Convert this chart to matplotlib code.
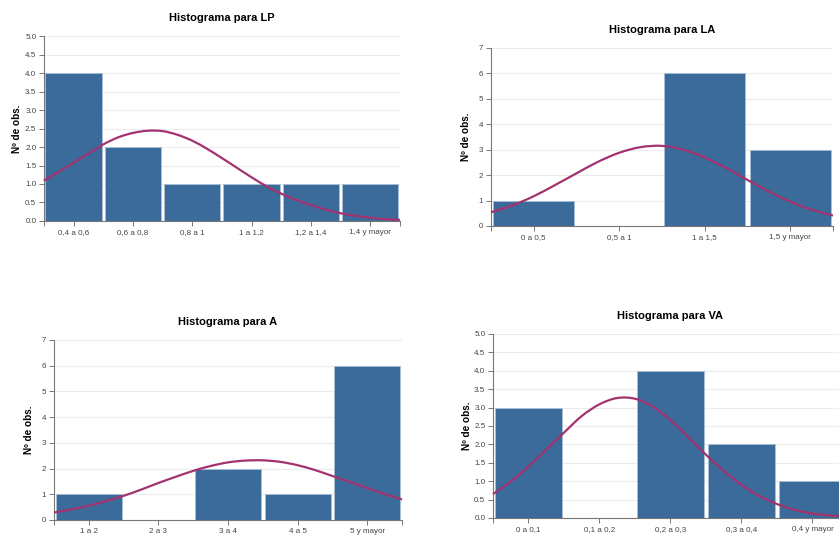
import numpy as np
import matplotlib
matplotlib.use('Agg')
import matplotlib.pyplot as plt
from matplotlib.path import Path
from matplotlib.patches import PathPatch

plt.rcParams['font.family'] = ['Liberation Sans', 'DejaVu Sans']

# LP
lp_cats = ['0,4 a 0,6', '0,6 a 0,8', '0,8 a 1', '1 a 1,2', '1,2 a 1,4', '1,4 y mayor']
lp_counts = [4, 2, 1, 1, 1, 1]
lp_curve = [1.09, 1.33, 1.58, 1.82, 2.07, 2.26, 2.38, 2.44, 2.43, 2.33, 2.17, 1.95,
            1.70, 1.44, 1.18, 0.94, 0.74, 0.57, 0.43, 0.31, 0.21, 0.14, 0.09, 0.05, 0.03]

# LA
la_cats = ['0 a 0,5', '0,5 a 1', '1 a 1,5', '1,5 y mayor']
la_counts = [1, 0, 6, 3]
la_curve = [0.54, 0.81, 1.17, 1.61, 2.07, 2.52, 2.88, 3.10, 3.15, 3.00, 2.69, 2.28,
            1.81, 1.36, 0.96, 0.64, 0.41]

# A
a_cats = ['1 a 2', '2 a 3', '3 a 4', '4 a 5', '5 y mayor']
a_counts = [1, 0, 2, 1, 6]
a_curve = [0.29, 0.41, 0.56, 0.74, 0.94, 1.18, 1.44, 1.68, 1.91, 2.10, 2.24, 2.31,
           2.32, 2.26, 2.13, 1.94, 1.71, 1.48, 1.24, 1.01, 0.80]

# VA
va_cats = ['0 a 0,1', '0,1 a 0,2', '0,2 a 0,3', '0,3 a 0,4', '0,4 y mayor']
va_counts = [3, 0, 4, 2, 1]
va_curve = [0.65, 0.99, 1.40, 1.86, 2.32, 2.77, 3.09, 3.26, 3.24, 3.03, 2.66, 2.20,
            1.72, 1.28, 0.90, 0.60, 0.38, 0.22, 0.12, 0.07, 0.03]

bar_color = '#3a6b9a'
line_color = '#a3336f'

fig = plt.figure(figsize=(8.39, 5.36), dpi=100)


def smooth_path(xs, ys):
    # catmull-rom drawn as bezier segments through the read points
    verts = [(xs[0], ys[0])]
    codes = [Path.MOVETO]
    n = len(xs)
    for i in range(n - 1):
        x0, y0 = (xs[i - 1], ys[i - 1]) if i > 0 else (xs[i], ys[i])
        x1, y1 = xs[i], ys[i]
        x2, y2 = xs[i + 1], ys[i + 1]
        x3, y3 = (xs[i + 2], ys[i + 2]) if i + 2 < n else (x2, y2)
        verts += [(x1 + (x2 - x0) / 6, y1 + (y2 - y0) / 6),
                  (x2 - (x3 - x1) / 6, y2 - (y3 - y1) / 6),
                  (x2, y2)]
        codes += [Path.CURVE4] * 3
    return Path(verts, codes)


def histo(rect, title, cats, counts, curve, ymax, ystep, fmt, label_px):
    ax = fig.add_axes(rect)
    n = len(cats)
    x = np.arange(n)
    ax.bar(x, counts, width=0.95, color=bar_color, edgecolor='#a8bfd4', linewidth=0.6, zorder=2)
    cx = np.linspace(-0.5, n - 0.5, len(curve))
    ax.add_patch(PathPatch(smooth_path(cx, curve), facecolor='none', edgecolor=line_color,
                           linewidth=1.6, zorder=3, clip_on=False))

    ax.set_xlim(-0.5, n - 0.5)
    ax.set_ylim(0, ymax)
    yt = np.arange(0, ymax + ystep / 2, ystep)
    ax.set_yticks(yt)
    ax.set_yticklabels([fmt.format(v) for v in yt])
    ax.set_xticks(x)
    ax.set_xticklabels(cats)
    ax.set_xticks([-0.5, n - 0.5], minor=True)

    ax.grid(axis='y', color='#ececec', linewidth=0.8, zorder=0)
    ax.set_axisbelow(True)
    for s in ['top', 'right']:
        ax.spines[s].set_visible(False)
    for s in ['left', 'bottom']:
        ax.spines[s].set_color('#777777')
        ax.spines[s].set_linewidth(0.8)
    ax.tick_params(axis='both', which='both', length=3.5, width=0.7, color='#777777',
                   labelsize=5.8, labelcolor='#444444', pad=2)

    ax.set_title(title, fontsize=8, fontweight='bold', pad=11)
    ax.set_ylabel('Nº de obs.', fontsize=7.2, fontweight='bold')
    w_px = rect[2] * 839
    ax.yaxis.set_label_coords(-label_px / w_px, 0.5)
    return ax


histo([0.0524, 0.5877, 0.4243, 0.3451], 'Histograma para LP', lp_cats, lp_counts, lp_curve, 5, 0.5, '{:.1f}', 22)
histo([0.5852, 0.5784, 0.4076, 0.3321], 'Histograma para LA', la_cats, la_counts, la_curve, 7, 1, '{:.0f}', 20)
histo([0.0644, 0.0299, 0.4148, 0.3358], 'Histograma para A', a_cats, a_counts, a_curve, 7, 1, '{:.0f}', 20)
histo([0.5876, 0.0336, 0.4231, 0.3433], 'Histograma para VA', va_cats, va_counts, va_curve, 5, 0.5, '{:.1f}', 21)

plt.savefig('out.png', dpi=100)
